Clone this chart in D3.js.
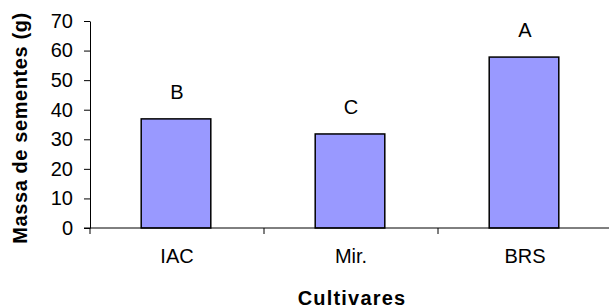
<!DOCTYPE html>
<html>
<head>
<meta charset="utf-8">
<script src="https://cdn.jsdelivr.net/npm/d3@7"></script>
<style>
  body { margin: 0; background: #fff; }
  svg text { font-family: Arial, "Liberation Sans", sans-serif; fill: #000; }
</style>
</head>
<body>
<div id="chart"></div>
<script>
//Chart data
var cultivares = ["IAC", "Mir.", "BRS"];
var massa = [36.9, 31.8, 57.8];
var letras = ["B", "C", "A"];
var yTicks = [0, 10, 20, 30, 40, 50, 60, 70];

var width = 609, height = 308;
var margin = {top: 21, right: -3, bottom: 80, left: 90};
var plotW = width - margin.left - margin.right,
    plotH = height - margin.top - margin.bottom;

var svg = d3.select("#chart").append("svg")
    .attr("width", width)
    .attr("height", height);

var g = svg.append("g")
    .attr("transform", "translate(" + margin.left + "," + margin.top + ")");

//Scales
var x = d3.scaleBand().domain(cultivares).range([-1, plotW - 1]).paddingInner(0.6).paddingOuter(0.3);
var xBand = d3.scaleBand().domain(cultivares).range([0, plotW]);
var y = d3.scaleLinear().domain([0, 70]).range([plotH, 0]);

//Bars
g.selectAll("rect.bar")
  .data(massa)
  .enter().append("rect")
    .attr("class", "bar")
    .attr("x", function(d, i) { return x(cultivares[i]); })
    .attr("y", function(d) { return y(d); })
    .attr("width", x.bandwidth())
    .attr("height", function(d) { return y(0) - y(d); })
    .attr("fill", "#9999ff")
    .attr("stroke", "#000")
    .attr("stroke-width", 1.5);

//Significance letters
g.selectAll("text.letra")
  .data(massa)
  .enter().append("text")
    .attr("class", "letra")
    .attr("x", function(d, i) { return x(cultivares[i]) + x.bandwidth() / 2 + 1; })
    .attr("y", function(d) { return y(d) - 20; })
    .attr("text-anchor", "middle")
    .style("font-size", "20px")
    .text(function(d, i) { return letras[i]; });

//Y axis
var yAxis = g.append("g")
    .call(d3.axisLeft(y).tickValues(yTicks).tickSize(6).tickSizeOuter(0).tickPadding(11));
yAxis.select(".domain").attr("stroke", "#000");
yAxis.selectAll("text").style("font-size", "20px").style("font-family", "Arial, 'Liberation Sans', sans-serif");

//X axis: ticks at category boundaries
var xAxis = g.append("g").attr("transform", "translate(0," + plotH + ")");
xAxis.append("line")
    .attr("x1", -6).attr("x2", plotW)
    .attr("stroke", "#000");
xAxis.selectAll("line.tick")
  .data(cultivares)
  .enter().append("line")
    .attr("class", "tick")
    .attr("x1", function(d) { return xBand(d); })
    .attr("x2", function(d) { return xBand(d); })
    .attr("y1", 0).attr("y2", 6)
    .attr("stroke", "#000");
xAxis.selectAll("text")
  .data(cultivares)
  .enter().append("text")
    .attr("x", function(d) { return xBand(d) + xBand.bandwidth() / 2; })
    .attr("y", 35)
    .attr("text-anchor", "middle")
    .style("font-size", "20px")
    .text(function(d) { return d; });

//Axis titles
svg.append("text")
    .attr("x", margin.left + plotW / 2 + 1)
    .attr("y", 305)
    .attr("text-anchor", "middle")
    .style("font-size", "20px")
    .style("font-weight", "bold")
    .style("letter-spacing", "1.2px")
    .text("Cultivares");

svg.append("text")
    .attr("transform", "translate(27," + 128 + ") rotate(-90)")
    .attr("text-anchor", "middle")
    .style("font-size", "20px")
    .style("font-weight", "bold")
    .style("letter-spacing", "0.6px")
    .text("Massa de sementes (g)");
</script>
</body>
</html>
